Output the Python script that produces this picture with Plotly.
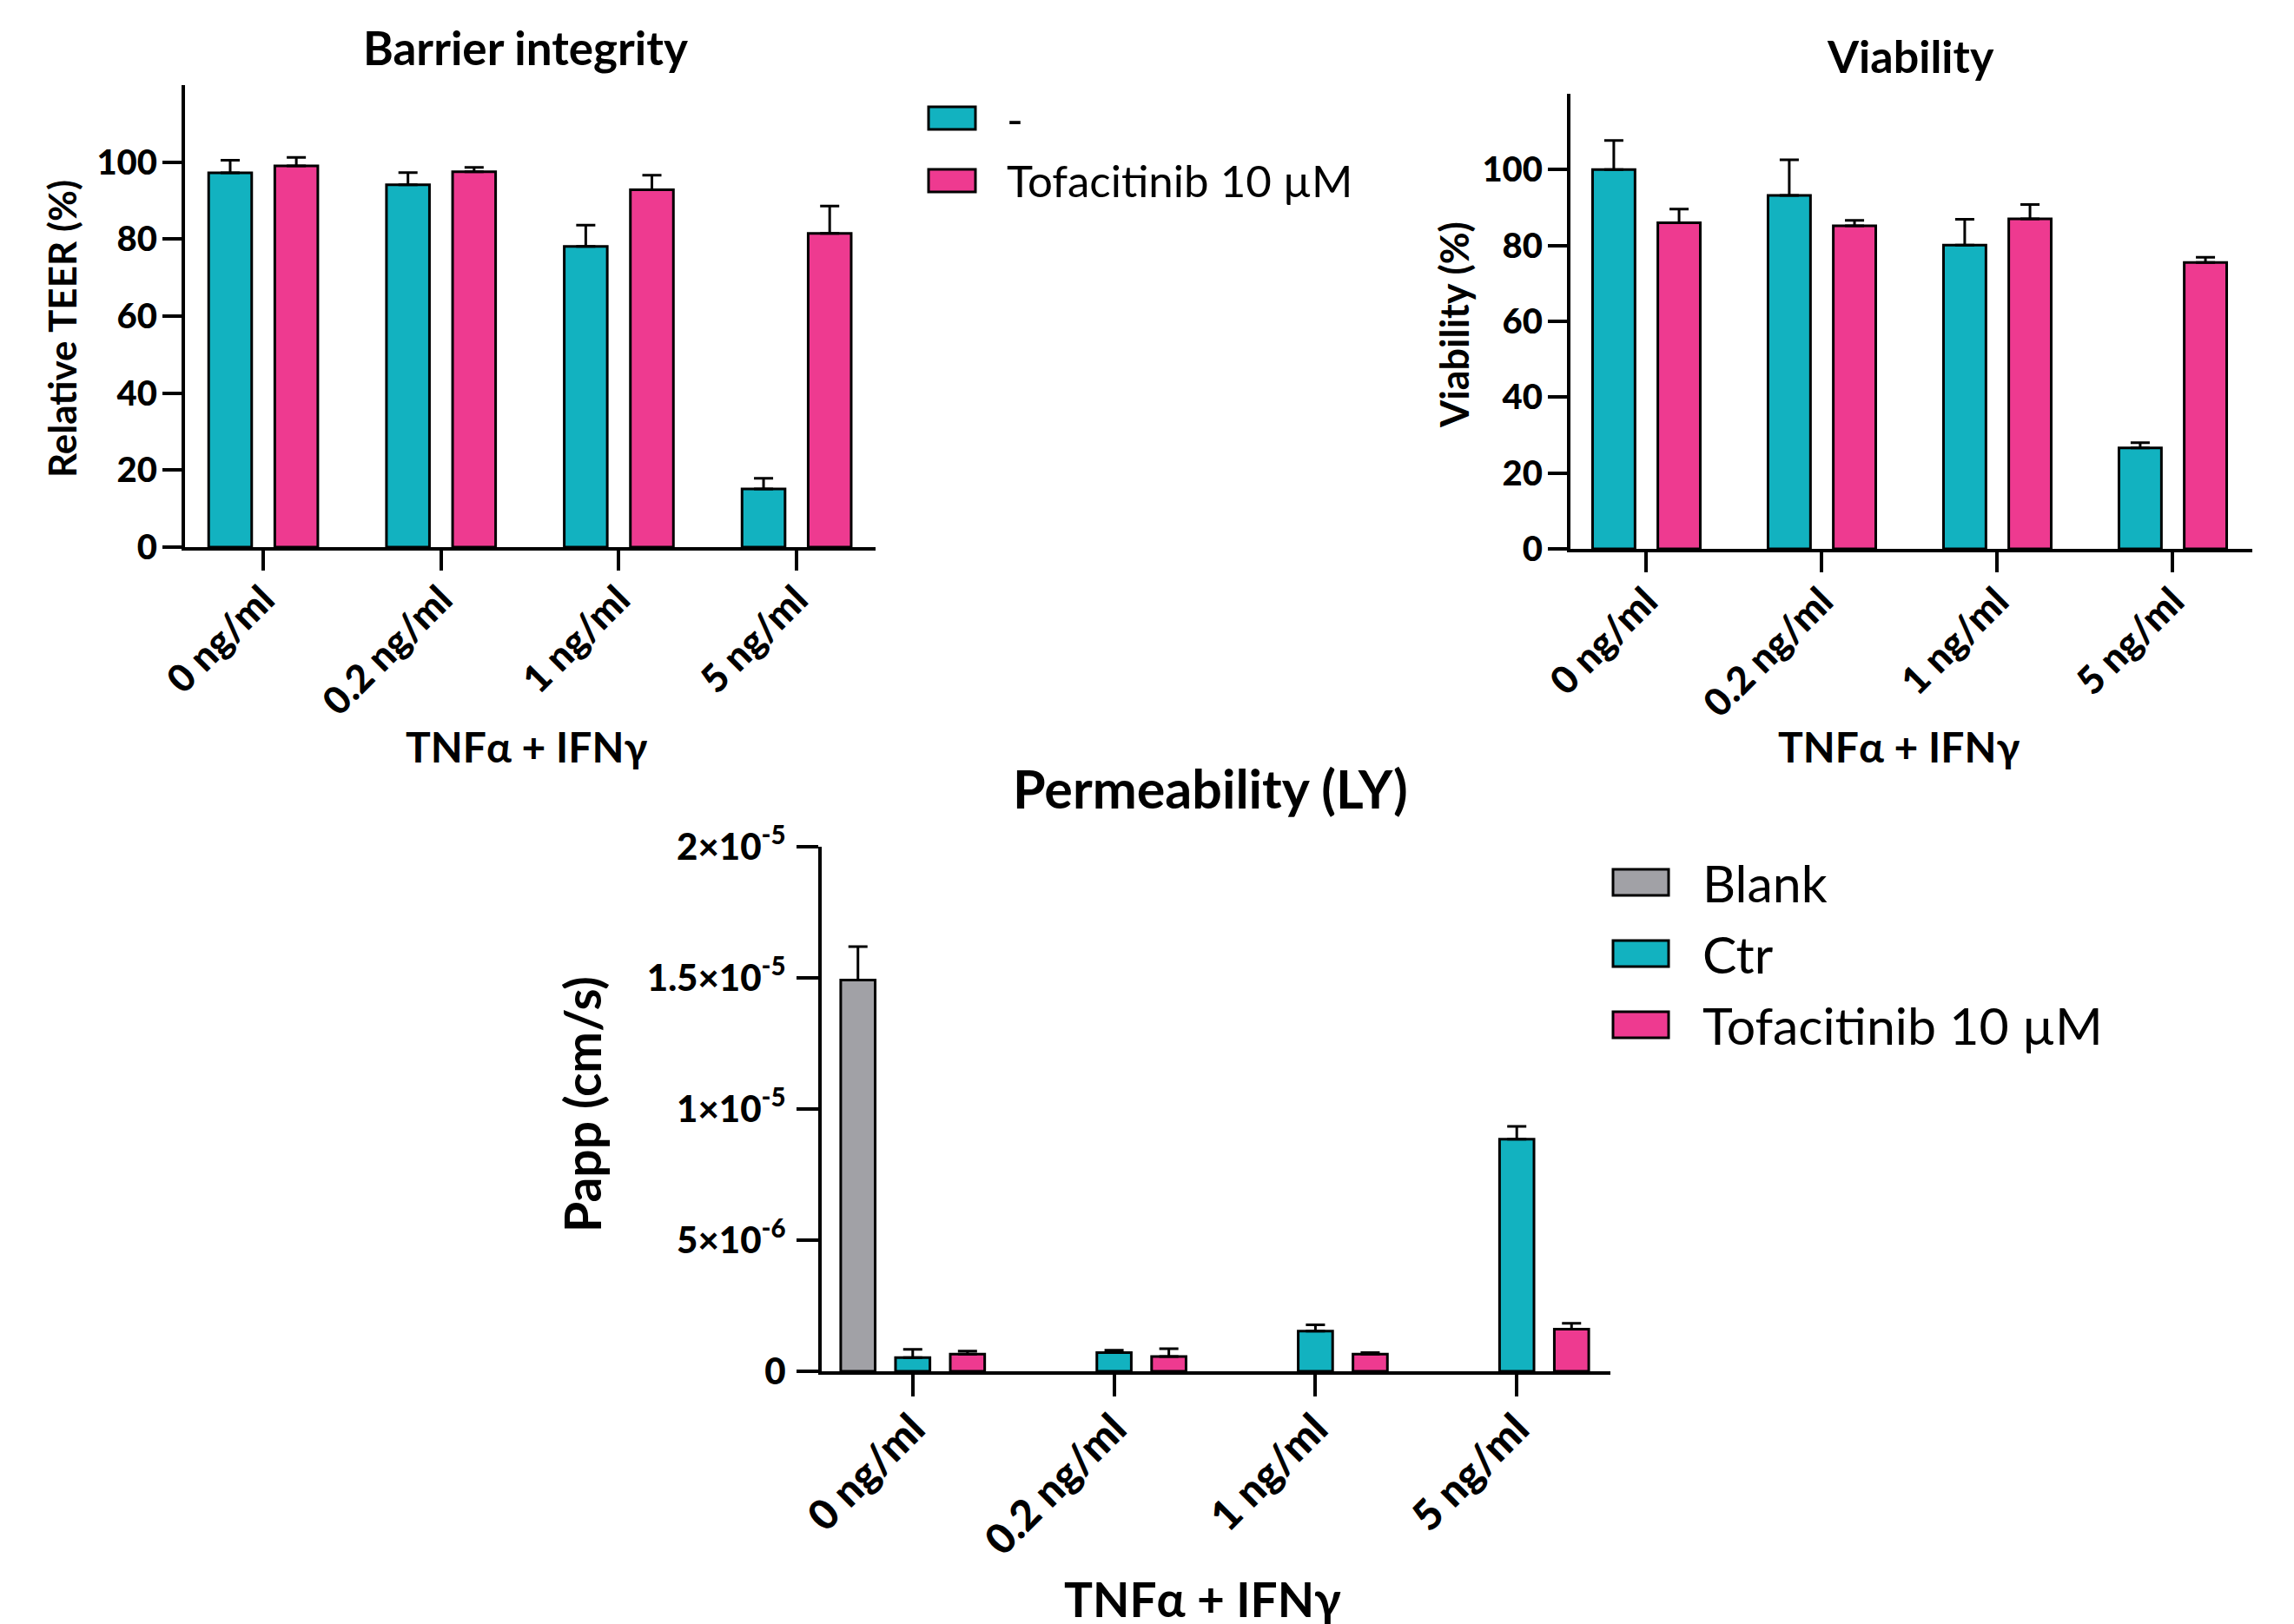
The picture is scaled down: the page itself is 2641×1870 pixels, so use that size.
import plotly.graph_objects as go

# ---------------- data ----------------
categories = ["0 ng/ml", "0.2 ng/ml", "1 ng/ml", "5 ng/ml"]

barrier_ctrl = [97.2, 94.1, 78.1, 15.1]
barrier_ctrl_err = [3.3, 3.2, 5.5, 2.8]
barrier_tofa = [99.0, 97.5, 92.8, 81.5]
barrier_tofa_err = [2.2, 1.1, 3.8, 7.1]

viab_ctrl = [100.0, 93.2, 80.1, 26.6]
viab_ctrl_err = [7.7, 9.4, 6.8, 1.4]
viab_tofa = [86.0, 85.2, 87.0, 75.5]
viab_tofa_err = [3.6, 1.4, 3.8, 1.4]

perm_blank = [1.492e-5]
perm_blank_err = [1.27e-6]
perm_ctr = [5.2e-7, 7.1e-7, 1.53e-6, 8.85e-6]
perm_ctr_err = [3.2e-7, 0.9e-7, 2.4e-7, 4.9e-7]
perm_tofa = [6.5e-7, 5.6e-7, 6.5e-7, 1.61e-6]
perm_tofa_err = [1.2e-7, 3.0e-7, 0.6e-7, 2.2e-7]

pct_ticks = [0, 20, 40, 60, 80, 100]
perm_ticks = [0, 5e-6, 1e-5, 1.5e-5, 2e-5]
perm_tick_text = ["0", "5×10<sup>-6</sup>", "1×10<sup>-5</sup>",
                  "1.5×10<sup>-5</sup>", "2×10<sup>-5</sup>"]

top_names = ["-", "Tofacitinib 10 µM"]
bottom_names = ["Blank", "Ctr", "Tofacitinib 10 µM"]

titles = ["Barrier integrity", "Viability", "Permeability (LY)"]
ytitles = ["Relative TEER (%)", "Viability (%)", "Papp (cm/s)"]
xtitle = "TNFα + IFNγ"

# ---------------- style ----------------
W, H = 2641, 1870
OFF = 8  # page body margin
TEAL = "#12B2C0"
PINK = "#EE3A90"
GREY = "#A1A1A6"
FONT = "Lato"


def fx(p):
    return (p - OFF) / W


def fy(p):
    return 1 - (p - OFF) / H


fig = go.Figure()


def add_bar(x, y, err, color, width, offset, xa, ya, name):
    fig.add_trace(go.Bar(
        x=x, y=y, name=name, xaxis=xa, yaxis=ya,
        width=width, offset=offset, showlegend=False,
        marker=dict(color=color, line=dict(color="black", width=3)),
        error_y=dict(type="data", symmetric=False, array=err,
                     arrayminus=[0] * len(err), color="black",
                     thickness=3, width=11),
    ))


w1 = 0.242
add_bar(categories, barrier_ctrl, barrier_ctrl_err, TEAL, w1, -0.186 - w1 / 2, "x", "y", top_names[0])
add_bar(categories, barrier_tofa, barrier_tofa_err, PINK, w1, 0.186 - w1 / 2, "x", "y", top_names[1])
add_bar(categories, viab_ctrl, viab_ctrl_err, TEAL, w1, -0.186 - w1 / 2, "x2", "y2", top_names[0])
add_bar(categories, viab_tofa, viab_tofa_err, PINK, w1, 0.186 - w1 / 2, "x2", "y2", top_names[1])
w3 = 0.171
add_bar(categories[:1], perm_blank, perm_blank_err, GREY, w3, -0.272 - w3 / 2, "x3", "y3", bottom_names[0])
add_bar(categories, perm_ctr, perm_ctr_err, TEAL, w3, 0.0 - w3 / 2, "x3", "y3", bottom_names[1])
add_bar(categories, perm_tofa, perm_tofa_err, PINK, w3, 0.272 - w3 / 2, "x3", "y3", bottom_names[2])


def xaxis_cfg(dom, rng, size, ticklen, anchor):
    return dict(domain=dom, range=rng, type="category", anchor=anchor,
                categoryorder="array", categoryarray=categories,
                automargin=False,
                showline=True, linewidth=4, linecolor="black",
                ticks="outside", ticklen=ticklen, tickwidth=4, tickcolor="black",
                tickangle=-45, ticklabelstandoff=-10,
                showgrid=False, zeroline=False,
                tickfont=dict(family=FONT, size=size, color="black", weight=900),
                fixedrange=True)


def yaxis_cfg(dom, rng, tv, tt, size, ticklen, anchor, standoff):
    return dict(domain=dom, range=rng, tickvals=tv, ticktext=tt, anchor=anchor,
                automargin=False,
                showline=True, linewidth=4, linecolor="black",
                ticks="outside", ticklen=ticklen, tickwidth=4, tickcolor="black",
                ticklabelstandoff=standoff,
                showgrid=False, zeroline=False,
                tickfont=dict(family=FONT, size=size, color="black", weight=900),
                fixedrange=True)


# pixel geometry of the three panels
fig.update_layout(
    width=W, height=H,
    margin=dict(l=0, r=0, t=0, b=0, autoexpand=False),
    paper_bgcolor="white", plot_bgcolor="white",
    barmode="overlay", showlegend=False,
    xaxis=xaxis_cfg([fx(213), fx(1008)], [-0.44, 3.444], 44, 23, "y"),
    yaxis=yaxis_cfg([fy(630), fy(98)], [0, 120], pct_ticks, [str(v) for v in pct_ticks], 40, 22, "x", -2),
    xaxis2=xaxis_cfg([fx(1808), fx(2593)], [-0.433, 3.453], 44, 23, "y2"),
    yaxis2=yaxis_cfg([fy(632), fy(108)], [0, 120], pct_ticks, [str(v) for v in pct_ticks], 40, 22, "x2", -2),
    xaxis3=xaxis_cfg([fx(946), fx(1854)], [-0.452, 3.465], 48, 25, "y3"),
    yaxis3=yaxis_cfg([fy(1579), fy(975)], [0, 2e-5], perm_ticks, perm_tick_text, 42, 25, "x3", 4),
)

ann = []


def text(x, y, s, size, bold=True, angle=0, xanchor="center"):
    ann.append(dict(x=fx(x), y=fy(y), xref="paper", yref="paper", text=s,
                    showarrow=False, textangle=angle, xanchor=xanchor, yanchor="middle",
                    font=dict(family=FONT, size=size, color="black",
                              weight="bold" if bold else "normal")))


# panel titles
text(605, 54, titles[0], 53)
text(2199, 64, titles[1], 52)
text(1393, 908, titles[2], 61)
# axis titles
text(71, 379, ytitles[0], 44, angle=-90)
text(1674, 374, ytitles[1], 45, angle=-90)
text(670, 1271, ytitles[2], 57, angle=-90)
text(606, 859, xtitle, 48)
text(2186, 859, xtitle, 48)
text(1384, 1841, xtitle, 55)

# custom legends (swatch + label)
shapes = []
top_colors = [TEAL, PINK]
for i, (nm, col) in enumerate(zip(top_names, top_colors)):
    cy = 136 + i * 72
    shapes.append(dict(type="rect", xref="paper", yref="paper",
                       x0=fx(1069), x1=fx(1123), y0=fy(cy + 13), y1=fy(cy - 13),
                       fillcolor=col, line=dict(color="black", width=3)))
    text(1157, cy, nm, 51, bold=False, xanchor="left")

bottom_colors = [GREY, TEAL, PINK]
for i, (nm, col) in enumerate(zip(bottom_names, bottom_colors)):
    cy = 1016 + i * 82
    shapes.append(dict(type="rect", xref="paper", yref="paper",
                       x0=fx(1857), x1=fx(1921), y0=fy(cy + 15), y1=fy(cy - 15),
                       fillcolor=col, line=dict(color="black", width=3)))
    text(1958, cy, nm, 59, bold=False, xanchor="left")

fig.update_layout(annotations=ann, shapes=shapes)
fig.write_html("out.html")
